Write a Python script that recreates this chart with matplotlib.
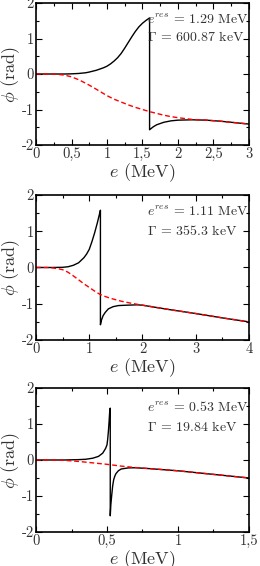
from matplotlib import pyplot as plt
from matplotlib import ticker

plt.rcParams['font.family'] = 'serif'
plt.rcParams['font.serif'] = ['cmr10', 'DejaVu Serif']
plt.rcParams['mathtext.fontset'] = 'cm'

# Panel 1: e_res = 1.29 MeV
e1 = [0, 0.2, 0.4, 0.5, 0.6, 0.7, 0.75, 0.8, 0.85, 0.9, 0.95, 1.0, 1.05,
      1.1, 1.15, 1.2, 1.25, 1.3, 1.35, 1.4, 1.45, 1.5, 1.55, 1.6, 1.6,
      1.65, 1.7, 1.8, 1.9, 2.0, 2.2, 2.4, 2.6, 2.8, 3.0]
phi1 = [0, 0, 0, 0.005, 0.015, 0.035, 0.055, 0.08, 0.105, 0.14, 0.175, 0.22,
        0.285, 0.365, 0.46, 0.58, 0.73, 0.89, 1.05, 1.2, 1.33, 1.43, 1.51,
        1.58, -1.57, -1.49, -1.43, -1.36, -1.32, -1.30, -1.29, -1.30, -1.33,
        -1.37, -1.41]
e1_bg = [0, 0.2, 0.3, 0.4, 0.5, 0.6, 0.7, 0.8, 0.9, 1.0, 1.1, 1.2, 1.3, 1.4,
         1.5, 1.6, 1.7, 1.8, 1.9, 2.0, 2.2, 2.4, 2.6, 2.8, 3.0]
phi1_bg = [0, 0, -0.01, -0.03, -0.08, -0.16, -0.26, -0.37, -0.49, -0.61,
           -0.71, -0.79, -0.87, -0.94, -1.0, -1.06, -1.11, -1.16, -1.20,
           -1.23, -1.28, -1.30, -1.33, -1.37, -1.41]

# Panel 2: e_res = 1.11 MeV
e2 = [0, 0.3, 0.5, 0.6, 0.7, 0.8, 0.9, 0.95, 1.0, 1.05, 1.1, 1.15, 1.2,
      1.21, 1.21, 1.23, 1.26, 1.3, 1.36, 1.45, 1.55, 1.7, 1.9, 2.0, 2.5,
      3.0, 3.5, 4.0]
phi2 = [0, 0, 0.005, 0.02, 0.06, 0.13, 0.27, 0.37, 0.5, 0.71, 0.95, 1.22,
        1.52, 1.58, -1.58, -1.45, -1.33, -1.24, -1.14, -1.08, -1.05, -1.04,
        -1.03, -1.04, -1.16, -1.27, -1.39, -1.5]
e2_bg = [0, 0.2, 0.3, 0.4, 0.5, 0.6, 0.7, 0.8, 0.9, 1.0, 1.1, 1.2, 1.3, 1.4,
         1.5, 1.6, 1.8, 2.0, 2.5, 3.0, 3.5, 4.0]
phi2_bg = [0, 0, -0.01, -0.03, -0.06, -0.13, -0.23, -0.34, -0.45, -0.55,
           -0.65, -0.74, -0.80, -0.85, -0.89, -0.93, -0.99, -1.04, -1.16,
           -1.27, -1.39, -1.5]

# Panel 3: e_res = 0.53 MeV
e3 = [0, 0.2, 0.3, 0.35, 0.4, 0.44, 0.47, 0.49, 0.5, 0.505, 0.51, 0.515,
      0.52, 0.523, 0.523, 0.527, 0.533, 0.54, 0.547, 0.555, 0.563, 0.58,
      0.6, 0.65, 0.7, 0.8, 0.9, 1.0, 1.2, 1.5]
phi3 = [0, 0, 0.01, 0.02, 0.05, 0.10, 0.19, 0.32, 0.42, 0.58, 0.8, 1.08,
        1.4, 1.44, -1.55, -1.25, -0.99, -0.72, -0.55, -0.45, -0.38, -0.30,
        -0.25, -0.22, -0.215, -0.24, -0.27, -0.30, -0.38, -0.5]
e3_bg = [0, 0.1, 0.2, 0.3, 0.4, 0.5, 0.6, 0.7, 0.8, 0.9, 1.0, 1.1, 1.2, 1.3,
         1.4, 1.5]
phi3_bg = [0, 0, -0.01, -0.04, -0.08, -0.12, -0.17, -0.21, -0.24, -0.27,
           -0.30, -0.34, -0.38, -0.42, -0.46, -0.50]

panels = [
    (e1, phi1, e1_bg, phi1_bg, 3.0, 0.5, 0.25,
     ['0', '0,5', '1', '1,5', '2', '2,5', '3'],
     [r'$e^{res}$ = 1.29 MeV', r'$\Gamma$ = 600.87 keV'], (0.88, 0.76)),
    (e2, phi2, e2_bg, phi2_bg, 4.0, 1.0, 0.5,
     ['0', '1', '2', '3', '4'],
     [r'$e^{res}$ = 1.11 MeV', r'$\Gamma$ = 355.3 keV'], (0.88, 0.75)),
    (e3, phi3, e3_bg, phi3_bg, 1.5, 0.5, 0.25,
     ['0', '0,5', '1', '1,5'],
     [r'$e^{res}$ = 0.53 MeV', r'$\Gamma$ = 19.84 keV'], (0.86, 0.73)),
]

# axes boxes in figure fractions (left, bottom, width, height)
boxes = [(0.1385, 0.7438, 0.819, 0.2509),
         (0.1385, 0.3993, 0.819, 0.2562),
         (0.1385, 0.0601, 0.819, 0.2544)]

fig = plt.figure(figsize=(2.6, 5.66), dpi=100)
txt = '#333333'

for box, (x, y, xb, yb, xmax, xmaj, xmin, xlabels, notes, ny) in zip(boxes, panels):
    ax = fig.add_axes(box)
    ax.plot(x, y, color='black', lw=1.0)
    ax.plot(xb, yb, color='red', lw=1.0, dashes=(3.5, 2))
    ax.set_xlim(0, xmax)
    ax.set_ylim(-2, 2)

    n = len(xlabels)
    ax.xaxis.set_major_locator(ticker.FixedLocator([i * xmaj for i in range(n)]))
    ax.xaxis.set_major_formatter(ticker.FixedFormatter(xlabels))
    ax.xaxis.set_minor_locator(ticker.MultipleLocator(xmin))
    ax.yaxis.set_major_locator(ticker.FixedLocator([-2, -1, 0, 1, 2]))
    ax.yaxis.set_major_formatter(ticker.FixedFormatter(['-2', '-1', '0', '1', '2']))
    ax.yaxis.set_minor_locator(ticker.MultipleLocator(0.5))
    ax.tick_params(which='both', direction='in', top=True, right=True,
                   labelsize=10.5, labelcolor=txt, pad=1.5)
    ax.tick_params(which='major', length=4, width=0.8)
    ax.tick_params(which='minor', length=2, width=0.8)
    for s in ax.spines.values():
        s.set_linewidth(1.2)

    ax.set_xlabel(r'$e$ (MeV)', fontsize=13, color=txt, labelpad=0)
    ax.set_ylabel(r'$\phi$ (rad)', fontsize=13, color=txt, labelpad=0)

    ax.text(0.52, ny[0], notes[0], transform=ax.transAxes, fontsize=10,
            color=txt, va='center', ha='left')
    ax.text(0.52, ny[1], notes[1], transform=ax.transAxes, fontsize=10,
            color=txt, va='center', ha='left')

fig.savefig('out.png', dpi=100)
